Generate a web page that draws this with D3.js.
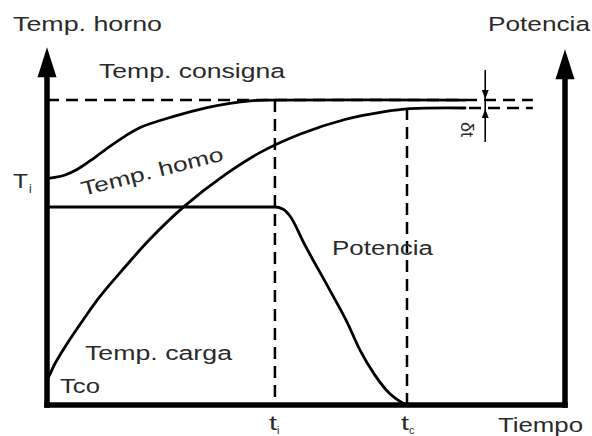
<!DOCTYPE html>
<html>
<head>
<meta charset="utf-8">
<script src="https://cdn.jsdelivr.net/npm/d3@7/dist/d3.min.js"></script>
<style>
  html, body { margin: 0; padding: 0; background: #fff; }
  svg { display: block; }
  text { font-family: "Liberation Sans", Arial, sans-serif; fill: #2a2a2a; }
</style>
</head>
<body>
<svg id="chart" width="592" height="436"></svg>
<script>
// Furnace temperature (Temp. horno) vs time
const furnaceTime  = [0, 1.5, 3.5, 5.8, 8.3, 11.6, 15.1, 18, 24.3, 30.9, 35.3, 39.2, 43, 80.7];
const furnaceTemp  = [62.9, 63.2, 63.9, 65.4, 67.8, 71.3, 74.7, 77.1, 80.1, 82.6, 83.8, 84.5, 84.7, 84.7];

// Load temperature (Temp. carga) vs time
const loadTime = [0, 0.2, 1.5, 3.9, 7, 10.2, 15.1, 19.9, 26.6, 34.6, 41.1, 48.8, 57.5, 64.9, 70.1, 80.7];
const loadTemp = [7.2, 7.5, 11.4, 17.1, 23.7, 30.1, 38.4, 46.1, 55.3, 64.2, 70.1, 75.2, 79.3, 81.4, 82.3, 82.5];

// Heating power (Potencia) vs time
const powerTime  = [0, 44, 45.6, 46.9, 49.8, 54.6, 57.9, 60.4, 63.3, 66.2, 69.3];
const powerValue = [55, 55, 54.4, 52.5, 44.4, 31.9, 23.1, 15.3, 8.3, 3.1, 0];

// Reference levels and instants
const setpoint = 84.7;      // Temp. consigna
const loadFinal = 82.5;     // final load temperature
const tInstants = [44, 69.5];          // t_i, t_c
const tInstantLevels = [84.7, 82.5];   // where each dashed marker starts
const tickNames = ["t", "t"];
const tickSubs = ["i", "c"];
const deltaT = 84.6;        // position of the δt tolerance marker
const dashEnd = 93.8;       // end of the dashed continuation
const axisTop = 99.4;

const svg = d3.select("#chart");
const x = d3.scaleLinear().domain([0, 100]).range([47, 565]);
const y = d3.scaleLinear().domain([0, 100]).range([405, 45]);

const smooth = d3.line().x(d => x(d[0])).y(d => y(d[1])).curve(d3.curveCatmullRom.alpha(0.5));
const mono = d3.line().x(d => x(d[0])).y(d => y(d[1])).curve(d3.curveMonotoneX);
const zip = (a, b) => a.map((v, i) => [v, b[i]]);

const dash = "12,7";

// setpoint dashed line, and the dashed continuation of the final load level
svg.append("line")
  .attr("x1", x(0)).attr("x2", x(dashEnd))
  .attr("y1", y(setpoint)).attr("y2", y(setpoint))
  .attr("stroke", "#000").attr("stroke-width", 2.5).attr("stroke-dasharray", dash);
svg.append("line")
  .attr("x1", x(furnaceTime[furnaceTime.length - 1]) + 4).attr("x2", x(dashEnd))
  .attr("y1", y(loadFinal)).attr("y2", y(loadFinal))
  .attr("stroke", "#000").attr("stroke-width", 2.5).attr("stroke-dasharray", dash);

// vertical dashed markers at t_i and t_c
svg.selectAll("line.tmark").data(tInstants).join("line")
  .attr("class", "tmark")
  .attr("x1", d => x(d)).attr("x2", d => x(d))
  .attr("y1", (d, i) => y(tInstantLevels[i])).attr("y2", y(0))
  .attr("stroke", "#000").attr("stroke-width", 2.5).attr("stroke-dasharray", dash);

// curves
[
  [smooth, furnaceTime, furnaceTemp],
  [smooth, loadTime, loadTemp],
  [mono, powerTime, powerValue]
].forEach(([gen, t, v]) => {
  svg.append("path")
    .attr("d", gen(zip(t, v)))
    .attr("fill", "none").attr("stroke", "#000").attr("stroke-width", 2.8)
    .attr("stroke-linejoin", "round").attr("stroke-linecap", "round");
});

// axes
const axisW = 5.5;
svg.append("line").attr("x1", x(0)).attr("x2", x(0))
  .attr("y1", y(0) + axisW / 2).attr("y2", y(axisTop) + 20)
  .attr("stroke", "#000").attr("stroke-width", axisW);
svg.append("line").attr("x1", x(100)).attr("x2", x(100))
  .attr("y1", y(0) + axisW / 2).attr("y2", y(axisTop) + 20)
  .attr("stroke", "#000").attr("stroke-width", axisW);
svg.append("line").attr("x1", x(0) - axisW / 2).attr("x2", x(100) + axisW / 2)
  .attr("y1", y(0)).attr("y2", y(0))
  .attr("stroke", "#000").attr("stroke-width", axisW);

[0, 100].forEach((t, i) => {
  const cx = x(t), ty = y(axisTop) + (i ? 2 : 0);
  svg.append("path")
    .attr("d", `M${cx},${ty} L${cx + 9.5},${ty + 30} L${cx - 9.5},${ty + 30} Z`)
    .attr("fill", "#000");
});

// δt tolerance marker
const mx = x(deltaT);
svg.append("line").attr("x1", mx).attr("x2", mx)
  .attr("y1", y(setpoint) - 30).attr("y2", y(loadFinal) + 34)
  .attr("stroke", "#000").attr("stroke-width", 1.6);
svg.append("path")
  .attr("d", `M${mx},${y(setpoint) - 1} L${mx + 3.5},${y(setpoint) - 10} L${mx - 3.5},${y(setpoint) - 10} Z`)
  .attr("fill", "#000");
svg.append("path")
  .attr("d", `M${mx},${y(loadFinal) + 1} L${mx + 3.5},${y(loadFinal) + 10} L${mx - 3.5},${y(loadFinal) + 10} Z`)
  .attr("fill", "#000");
svg.append("text")
  .attr("transform", `translate(${mx - 24},${y(loadFinal) + 14}) rotate(90)`)
  .attr("font-size", 18).text("δt");

// labels
function label(txt, px, py, len, size = 20) {
  return svg.append("text").attr("x", px).attr("y", py)
    .attr("font-size", size)
    .attr("textLength", len).attr("lengthAdjust", "spacingAndGlyphs")
    .text(txt);
}
label("Temp. horno", 13, 31, 149);
label("Potencia", 488, 31, 102);
label("Temp. consigna", 99, 78, 186);
label("Potencia", 332, 255, 101);
label("Temp. carga", 85, 360, 147);
label("Tco", 60, 393, 40);
label("Tiempo", 498, 432, 85);

svg.append("text")
  .attr("transform", "translate(83,196) rotate(-14.2)")
  .attr("font-size", 20)
  .attr("textLength", 146).attr("lengthAdjust", "spacingAndGlyphs")
  .text("Temp. homo");

// T_i on the left axis
svg.append("text").attr("x", 13).attr("y", 188).attr("font-size", 20)
  .attr("textLength", 15).attr("lengthAdjust", "spacingAndGlyphs").text("T");
svg.append("text").attr("x", 29).attr("y", 193).attr("font-size", 12).text("i");

// t_i, t_c under the time axis
tInstants.forEach((t, i) => {
  const tx = x(t) - 6;
  svg.append("text").attr("x", tx).attr("y", 430).attr("font-size", 20)
    .attr("textLength", 8).attr("lengthAdjust", "spacingAndGlyphs").text(tickNames[i]);
  svg.append("text").attr("x", tx + 8).attr("y", 434).attr("font-size", 11).text(tickSubs[i]);
});
</script>
</body>
</html>
